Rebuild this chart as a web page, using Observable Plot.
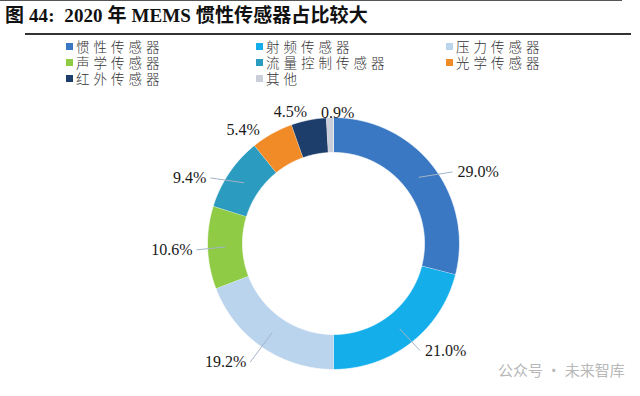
<!DOCTYPE html>
<html>
<head>
<meta charset="utf-8">
<script src="https://cdn.jsdelivr.net/npm/d3@7"></script>
<script src="https://cdn.jsdelivr.net/npm/@observablehq/plot@0.6"></script>
<style>
  html, body { margin: 0; padding: 0; background: #fff; }
  body { width: 640px; height: 396px; position: relative; overflow: hidden; }
  #topline { position: absolute; left: 0; top: 0; width: 622px; height: 1px; background: #555; }
  #title { position: absolute; left: 5px; top: 4px; font-family: "Liberation Serif", "Noto Sans CJK SC", serif; font-weight: bold; font-size: 19px; line-height: 24px; color: #111; white-space: nowrap; letter-spacing: 0.1px; }
  #rule { position: absolute; left: 25px; top: 33px; width: 606px; height: 2px; background: #333; }
  #legend { position: absolute; left: 66px; top: 38px; display: grid; grid-template-columns: 190px 190px 190px; grid-auto-rows: 16px; font-family: "Noto Sans CJK SC", sans-serif; font-size: 13.5px; line-height: 16px; font-weight: 300; color: #333; letter-spacing: 4px; }
  .item { display: flex; align-items: center; white-space: nowrap; height: 16px; }
  .sw { width: 7px; height: 7px; margin-right: 3px; flex: none; }
  #chart { position: absolute; left: 0; top: 88px; }
  #wm { position: absolute; left: 498px; top: 361px; font-family: "Noto Sans CJK SC", sans-serif; font-size: 15px; line-height: 18px; color: #b8b8b8; white-space: nowrap; }
</style>
</head>
<body>
<div id="topline"></div>
<div id="title">图 44:&nbsp; 2020 年 MEMS 惯性传感器占比较大</div>
<div id="rule"></div>
<div id="legend"></div>
<div id="chart"></div>
<div id="wm">公众号 · 未来智库</div>
<script>
// ---- data ----
const categories = ["惯性传感器", "射频传感器", "压力传感器", "声学传感器", "流量控制传感器", "光学传感器", "红外传感器", "其他"];
const shares = [29.0, 21.0, 19.2, 10.6, 9.4, 5.4, 4.5, 0.9];
const colors = ["#3b78c3", "#14aeeb", "#bad4ee", "#8fcb45", "#2b9bbf", "#f08b28", "#1d3e6b", "#c9ced9"];

// ---- layout (not data) ----
const outerR = 126, innerR = 91, leadR = 108, labelR = 138;
const labelNudge = {
  "惯性传感器": [10, 13], "射频传感器": [2, -2], "压力传感器": [-5, 5], "声学传感器": [1, 2],
  "流量控制传感器": [-9, 12], "光学传感器": [-23, 7], "红外传感器": [-16, 4], "其他": [8, 7]
};
const noLeader = new Set(["光学传感器", "红外传感器", "其他"]);

// legend
const legend = document.getElementById("legend");
categories.forEach((c, i) => {
  const d = document.createElement("div");
  d.className = "item";
  d.innerHTML = `<span class="sw" style="background:${colors[i]}"></span><span>${c}</span>`;
  legend.appendChild(d);
});

// pie geometry, clockwise from 12 o'clock
const total = d3.sum(shares);
let acc = 0;
const slices = categories.map((name, i) => {
  const a0 = acc / total * 2 * Math.PI;
  acc += shares[i];
  const a1 = acc / total * 2 * Math.PI;
  return {name, value: shares[i], a0, a1, mid: (a0 + a1) / 2};
});
const polar = (a, r) => [r * Math.sin(a), r * Math.cos(a)];

const ring = [];
for (const s of slices) {
  const n = Math.max(2, Math.ceil((s.a1 - s.a0) / (Math.PI / 360)));
  for (let k = 0; k <= n; k++) {
    const a = s.a0 + (s.a1 - s.a0) * k / n;
    const [x, y] = polar(a, outerR);
    ring.push({name: s.name, x, y});
  }
  for (let k = n; k >= 0; k--) {
    const a = s.a0 + (s.a1 - s.a0) * k / n;
    const [x, y] = polar(a, innerR);
    ring.push({name: s.name, x, y});
  }
}

const labels = slices.map(s => {
  const [px, py] = polar(s.mid, leadR);
  let [ax, ay] = polar(s.mid, labelR);
  const [nx, ny] = labelNudge[s.name];
  ax += nx; ay -= ny;
  const anchor = noLeader.has(s.name) ? "middle" : (Math.sin(s.mid) >= 0 ? "start" : "end");
  return {name: s.name, label: s.value.toFixed(1) + "%", px, py, ax, ay, anchor};
});

const textOpts = {fontFamily: "Liberation Serif, serif", fontSize: 16, fill: "#1a1a1a"};

const chart = Plot.plot({
  width: 640,
  height: 308,
  margin: 0,
  x: {domain: [-333, 307], axis: null},
  y: {domain: [-153, 155], axis: null},
  color: {domain: categories, range: colors},
  marks: [
    Plot.line(ring, {x: "x", y: "y", z: "name", fill: "name", stroke: "#ffffff", strokeWidth: 0.7, curve: "linear"}),
    Plot.link(labels.filter(d => !noLeader.has(d.name)), {x1: "px", y1: "py", x2: "ax", y2: "ay", stroke: "#a3b4c6", strokeWidth: 1}),
    Plot.text(labels.filter(d => d.anchor === "start"), {x: "ax", y: "ay", text: "label", textAnchor: "start", dx: 5, ...textOpts}),
    Plot.text(labels.filter(d => d.anchor === "end"), {x: "ax", y: "ay", text: "label", textAnchor: "end", dx: -4, ...textOpts}),
    Plot.text(labels.filter(d => d.anchor === "middle"), {x: "ax", y: "ay", text: "label", textAnchor: "middle", ...textOpts})
  ]
});
document.getElementById("chart").appendChild(chart);
</script>
</body>
</html>
